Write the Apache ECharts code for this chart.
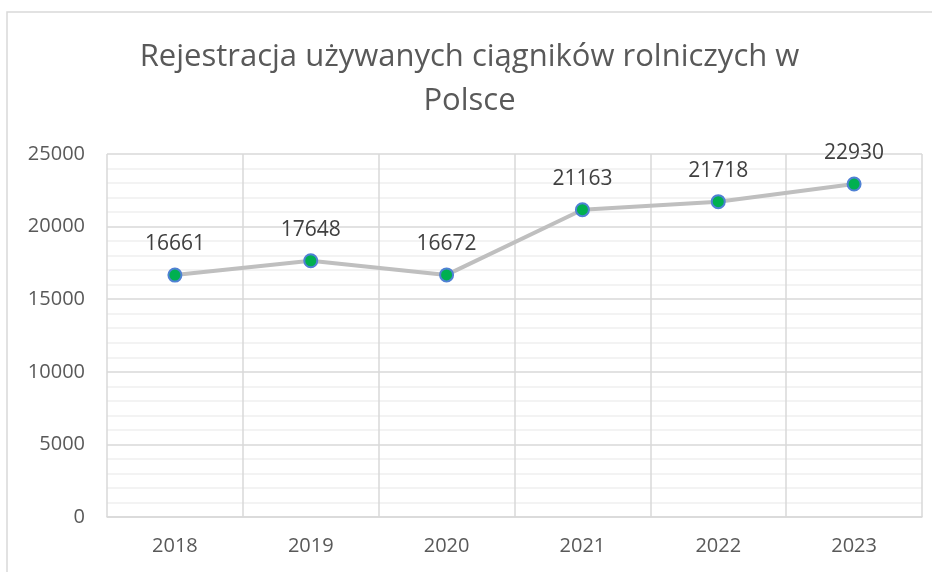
<!DOCTYPE html>
<html>
<head>
<meta charset="utf-8">
<script src="https://cdn.jsdelivr.net/npm/echarts@6/dist/echarts.min.js"></script>
<style>
    html, body { margin: 0; padding: 0; background: #fff; }
    #chart { width: 939px; height: 572px; }
</style>
</head>
<body>
<div id="chart"></div>
<script>
// dane
const years = ['2018', '2019', '2020', '2021', '2022', '2023']
const registrations = [16661, 17648, 16672, 21163, 21718, 22930]
const yTicks = [0, 5000, 10000, 15000, 20000, 25000]

const textColor = '#595959'
const fontFamily = '"Open Sans", Lato, sans-serif'

const chart = echarts.init(document.getElementById('chart'))
chart.setOption({
    backgroundColor: '#fff',
    title: {
        text: 'Rejestracja używanych ciągników rolniczych w\nPolsce',
        left: 'center',
        top: 30,
        textStyle: {
            color: textColor,
            fontFamily: fontFamily,
            fontWeight: 'normal',
            fontSize: 31,
            lineHeight: 44
        }
    },
    graphic: [
        // ramka obszaru wykresu (widoczna tylko z lewej i u góry)
        {
            type: 'polyline',
            shape: { points: [[7, 580], [7, 12], [932, 12]] },
            style: { stroke: '#d9d9d9', lineWidth: 1.5, fill: null }
        }
    ],
    grid: {
        left: 107,
        right: 17,
        top: 154,
        bottom: 55
    },
    xAxis: {
        type: 'category',
        data: years,
        boundaryGap: true,
        axisLine: { lineStyle: { color: '#d9d9d9', width: 1.5 } },
        axisTick: { show: false },
        axisLabel: {
            color: textColor,
            fontFamily: fontFamily,
            fontSize: 20,
            margin: 19
        },
        splitLine: {
            show: true,
            lineStyle: { color: '#d9d9d9', width: 1.5 }
        }
    },
    yAxis: {
        type: 'value',
        min: yTicks[0],
        max: yTicks[yTicks.length - 1],
        interval: 5000,
        axisLine: { show: false },
        axisTick: { show: false },
        axisLabel: {
            color: textColor,
            fontFamily: fontFamily,
            fontSize: 20,
            margin: 22,
            formatter: v => String(v)
        },
        splitLine: {
            lineStyle: { color: '#d9d9d9', width: 1.5 }
        },
        minorTick: { show: false, splitNumber: 5 },
        minorSplitLine: {
            show: true,
            lineStyle: { color: '#f0f0f0', width: 1.5 }
        }
    },
    series: [
        {
            name: 'Rejestracja',
            type: 'line',
            data: registrations,
            symbol: 'circle',
            symbolSize: 13,
            lineStyle: { color: '#bfbfbf', width: 4 },
            itemStyle: {
                color: '#00b050',
                borderColor: '#4f81d4',
                borderWidth: 2
            },
            label: {
                show: true,
                position: 'top',
                distance: 13,
                color: '#404040',
                fontFamily: fontFamily,
                fontSize: 21
            },
            z: 3
        }
    ]
})
</script>
</body>
</html>
